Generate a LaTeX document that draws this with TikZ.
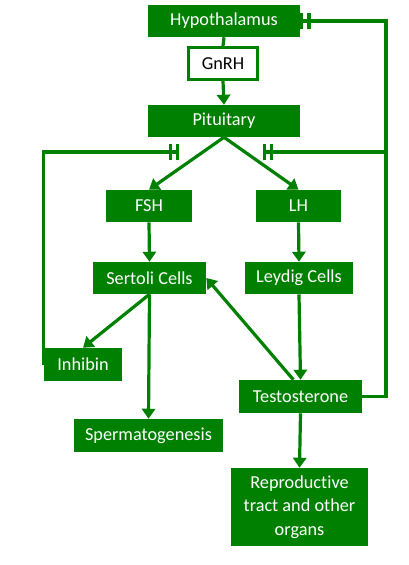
\documentclass[tikz,border=0pt]{standalone}
\usepackage{fontspec}
\setmainfont{Carlito}[Ligatures=NoCommon]
\usepackage{tikz}
\definecolor{leaf}{RGB}{0, 128, 0}
\usetikzlibrary{arrows.meta, positioning}

\begin{document}
\begin{tikzpicture}[x=0.75pt, y=-0.75pt,
    organ/.style={fill=leaf, text=white, inner sep=0pt,
                  minimum width=#1*0.75pt, minimum height=24pt,
                  font=\fontsize{13.7}{17.5}\selectfont},
    signal/.style={draw=leaf, line width=2.25pt, fill=white, text=black,
                   inner sep=0pt, minimum width=69*0.75pt, minimum height=32*0.75pt,
                   font=\fontsize{13.7}{17.5}\selectfont},
    flow/.style={leaf, line width=2.4pt, -{Triangle[width=10pt, length=7.5pt]}},
    block/.style={leaf, line width=2.4pt, -{Bar[width=12pt, sep=3pt]Bar[width=12pt]}}
]
    \useasboundingbox (0,0) rectangle (409,565);

    \node[organ=152] (hypo) at (224,21) {Hypothalamus};
    \node[signal] (gnrh) at (223,63.5) {GnRH};
    \node[organ=152] (pit) at (224,121) {Pituitary};

    \node[organ=86] (fsh) at (149,206) {FSH};
    \node[organ=85] (lh) at (298.5,206) {LH};

    \node[organ=113] (sertoli) at (149.5,278) {Sertoli Cells};
    \node[organ=108] (leydig) at (299,278) {Leydig Cells};

    \node[organ=78, minimum height=24.75pt] (inhibin) at (83,364.5) {Inhibin};
    \node[organ=123, minimum height=24.75pt] (testo) at (300.5,396.5) {Testosterone};
    \node[organ=149, minimum height=24.75pt] (sperm) at (148.5,435.5) {Spermatogenesis};
    \node[organ=137, minimum height=58.5pt, align=center] (organs) at (299.5,507)
        {Reproductive\\tract and other\\organs};

    % feedback points
    \coordinate (fshstop) at (179,152);
    \coordinate (lhstop) at (263,152);
    \coordinate (loop) at (386,21);
    \coordinate (branch) at (386,152);

    \draw[leaf, line width=2.4pt] (hypo.south) -- (gnrh.north);
    \draw[flow] (gnrh.south) -- (pit.north);
    \draw[flow] (pit.south) -- (fsh.north);
    \draw[flow] (pit.south) -- (lh.north);
    \draw[flow] (fsh.south) -- (sertoli.north);
    \draw[flow] (lh.south) -- (leydig.north);
    \draw[flow] (sertoli.south) -- (inhibin.north);
    \draw[flow] (sertoli.south) -- (sperm.north);
    \draw[flow] (leydig.south) -- (testo.north);
    \draw[flow] (testo.north west) ++(41pt,0) -- (sertoli.east);
    \draw[flow] (testo.south) -- (organs.north);

    \draw[block] (inhibin.west) |- (fshstop);
    \draw[block] (testo.east) -| (loop) -- (hypo.east);
    \draw[block] (branch) -- (lhstop);
\end{tikzpicture}
\end{document}
